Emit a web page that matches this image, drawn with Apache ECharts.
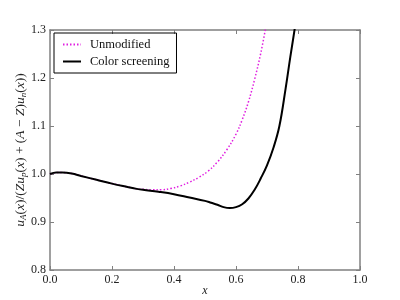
<!DOCTYPE html>
<html><head><meta charset="utf-8">
<script src="https://cdn.jsdelivr.net/npm/echarts@6/dist/echarts.min.js"></script>
<style>html,body{margin:0;padding:0;background:#fff}#c{width:400px;height:300px}</style>
</head><body><div id="c"></div>
<script>
var seriesNames = ['Unmodified', 'Color screening'];
var xTicks = [0, 0.2, 0.4, 0.6, 0.8, 1.0];
var yTicks = [0.8, 0.9, 1.0, 1.1, 1.2, 1.3];
var commonX = [0.00, 0.02, 0.04, 0.07, 0.10, 0.15, 0.20, 0.25, 0.28];
var commonY = [1.000, 1.003, 1.003, 1.001, 0.996, 0.988, 0.980, 0.973, 0.969];
var unmodX = [0.30, 0.33, 0.36, 0.39, 0.42, 0.45, 0.48, 0.51, 0.54, 0.57, 0.60, 0.62, 0.64, 0.66, 0.68, 0.70];
var unmodY = [0.968, 0.967, 0.967, 0.970, 0.975, 0.983, 0.993, 1.006, 1.025, 1.050, 1.083, 1.113, 1.150, 1.197, 1.252, 1.320];
var screenX = [0.30, 0.35, 0.40, 0.45, 0.50, 0.52, 0.54, 0.56, 0.58, 0.60, 0.62, 0.64, 0.66, 0.68, 0.70, 0.72, 0.74, 0.76, 0.775, 0.79, 0.80];
var screenY = [0.967, 0.963, 0.958, 0.951, 0.944, 0.940, 0.936, 0.931, 0.929, 0.931, 0.937, 0.949, 0.967, 0.991, 1.018, 1.053, 1.100, 1.178, 1.243, 1.305, 1.350];

function pairs(xs, ys) { return xs.map(function (x, i) { return [x, ys[i]]; }); }
var unmodData = pairs(commonX.concat(unmodX), commonY.concat(unmodY));
var screenData = pairs(commonX.concat(screenX), commonY.concat(screenY));

var FONT = 'Liberation Serif';
var axisLineStyle = { color: '#808080', width: 1.5 };
function fmt(v) { return v.toFixed(1); }
function mkX(pos, labels) {
  return { type: 'value', position: pos, min: xTicks[0], max: xTicks[xTicks.length - 1], interval: 0.2,
    axisLine: { show: true, onZero: false, lineStyle: axisLineStyle },
    axisTick: { show: true, inside: true, length: 4, lineStyle: { color: '#808080', width: 1 } },
    axisLabel: { show: labels, color: '#222', fontFamily: FONT, fontSize: 12, margin: 4, formatter: fmt },
    splitLine: { show: false } };
}
function mkY(pos, labels) {
  return { type: 'value', position: pos, min: yTicks[0], max: yTicks[yTicks.length - 1], interval: 0.1,
    axisLine: { show: true, onZero: false, lineStyle: axisLineStyle },
    axisTick: { show: true, inside: true, length: 4, lineStyle: { color: '#808080', width: 1 } },
    axisLabel: { show: labels, color: '#222', fontFamily: FONT, fontSize: 12, margin: 4, formatter: fmt },
    splitLine: { show: false } };
}
var xBottom = mkX('bottom', true);
xBottom.name = 'x';
xBottom.nameLocation = 'middle';
xBottom.nameGap = 15;
xBottom.nameMoveOverlap = false;
xBottom.nameTextStyle = { fontFamily: FONT, fontStyle: 'italic', fontSize: 12, color: '#222' };
var yLeft = mkY('left', true);
yLeft.name = '{i|u}{s|A}{n|(}{i|x}{n|)/(}{i|Zu}{s|p}{n|(}{i|x}{n|) + (}{i|A}{n| − }{i|Z}{n|)}{i|u}{s|n}{n|(}{i|x}{n|))}';
yLeft.nameLocation = 'middle';
yLeft.nameGap = 22;
yLeft.nameMoveOverlap = false;
yLeft.nameTextStyle = {
  color: '#222', fontFamily: FONT, fontSize: 13.5,
  rich: {
    i: { fontFamily: FONT, fontStyle: 'italic', fontSize: 13.5, color: '#222' },
    n: { fontFamily: FONT, fontSize: 13.5, color: '#222' },
    s: { fontFamily: FONT, fontStyle: 'italic', fontSize: 9, color: '#222', verticalAlign: 'bottom', padding: [6, 0, 0, 0] }
  }
};

var chart = echarts.init(document.getElementById('c'), null, { renderer: 'canvas' });
chart.setOption({
  animation: false,
  backgroundColor: '#fff',
  grid: { left: 50, top: 30, width: 310, height: 240, outerBoundsMode: 'none', containLabel: false },
  legend: {
    left: 54, top: 33, orient: 'vertical', itemGap: 4, itemWidth: 18, itemHeight: 10,
    padding: [5, 7, 5, 8], borderColor: '#000', borderWidth: 1,
    itemStyle: { opacity: 0 },
    textStyle: { fontFamily: FONT, fontSize: 12.5, color: '#111', padding: [0, 0, 0, 4] },
    data: seriesNames
  },
  xAxis: [xBottom, mkX('top', false)],
  yAxis: [yLeft, mkY('right', false)],
  series: [
    { name: seriesNames[0], type: 'line', data: unmodData, smooth: 0.4, symbol: 'none', clip: true,
      lineStyle: { color: '#e020e0', width: 1.5, type: [1.5, 2] }, itemStyle: { color: '#e020e0' } },
    { name: seriesNames[1], type: 'line', data: screenData, smooth: 0.4, symbol: 'none', clip: true,
      lineStyle: { color: '#000', width: 2 }, itemStyle: { color: '#000' } }
  ]
});
</script></body></html>
